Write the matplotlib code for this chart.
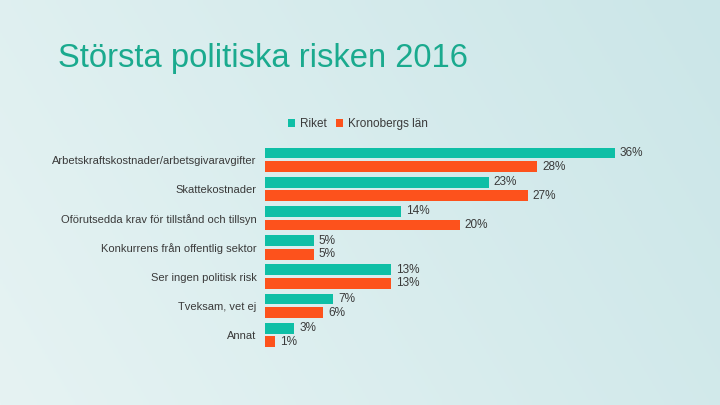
import matplotlib
matplotlib.use("Agg")
import matplotlib.pyplot as plt
import numpy as np

categories = [
    "Arbetskraftskostnader/arbetsgivaravgifter",
    "Skattekostnader",
    "Oförutsedda krav för tillstånd och tillsyn",
    "Konkurrens från offentlig sektor",
    "Ser ingen politisk risk",
    "Tveksam, vet ej",
    "Annat",
]
riket = [36, 23, 14, 5, 13, 7, 3]
kronoberg = [28, 27, 20, 5, 13, 6, 1]
series_names = ["Riket", "Kronobergs län"]
title = "Största politiska risken 2016"

teal = "#0fbfa6"
orange = "#fd521c"
txt = "#3a3a3a"

plt.rcParams['font.family'] = ['Liberation Sans', 'DejaVu Sans']

fig = plt.figure(figsize=(7.2, 4.05), dpi=100)

# background gradient
bg = fig.add_axes([0, 0, 1, 1], zorder=-10)
xs = np.linspace(0, 1, 256)
ys = np.linspace(0, 1, 64)
X, Y = np.meshgrid(xs, ys)
t = np.clip(0.75 * X + 0.25 * (1 - Y), 0, 1)
c0 = np.array([0xe6, 0xf3, 0xf3]) / 255
c1 = np.array([0xcb, 0xe6, 0xe8]) / 255
img = c0[None, None, :] * (1 - t[..., None]) + c1[None, None, :] * t[..., None]
bg.imshow(img, aspect='auto', extent=[0, 1, 0, 1], origin='upper')
bg.axis('off')

fig.text(58 / 720, 1 - 59 / 405, title, fontsize=23.6, color="#1aaa8e",
         va='center', ha='left')

ax = fig.add_axes([265 / 720, 1 - 355.4 / 405, 389 / 720, 216 / 405])
ax.set_facecolor('none')
y = np.arange(len(categories))
h = 0.37
off = 0.235
b1 = ax.barh(y - off, riket, height=h, color=teal, label=series_names[0])
b2 = ax.barh(y + off, kronoberg, height=h, color=orange, label=series_names[1])
for yi, v in zip(y, riket):
    ax.text(v + 0.5, yi - off, f"{v}%", va='center', ha='left', fontsize=8.5, color=txt)
for yi, v in zip(y, kronoberg):
    ax.text(v + 0.5, yi + off, f"{v}%", va='center', ha='left', fontsize=8.5, color=txt)

ax.set_xlim(0, 40)
ax.set_ylim(6.7, -0.7)
ax.set_yticks(y)
ax.set_yticklabels(categories, fontsize=8.0, color=txt)
ax.tick_params(axis='y', length=0, pad=6)
ax.set_xticks([])
for s in ax.spines.values():
    s.set_visible(False)

leg = fig.legend(handles=[b1, b2], labels=series_names, loc='center',
                 bbox_to_anchor=(358 / 720, 1 - 124 / 405), ncol=2, frameon=False,
                 fontsize=8.5, handlelength=0.6, handleheight=0.6,
                 handletextpad=0.4, columnspacing=0.8, labelcolor=txt)

fig.savefig("out.png", dpi=100)
